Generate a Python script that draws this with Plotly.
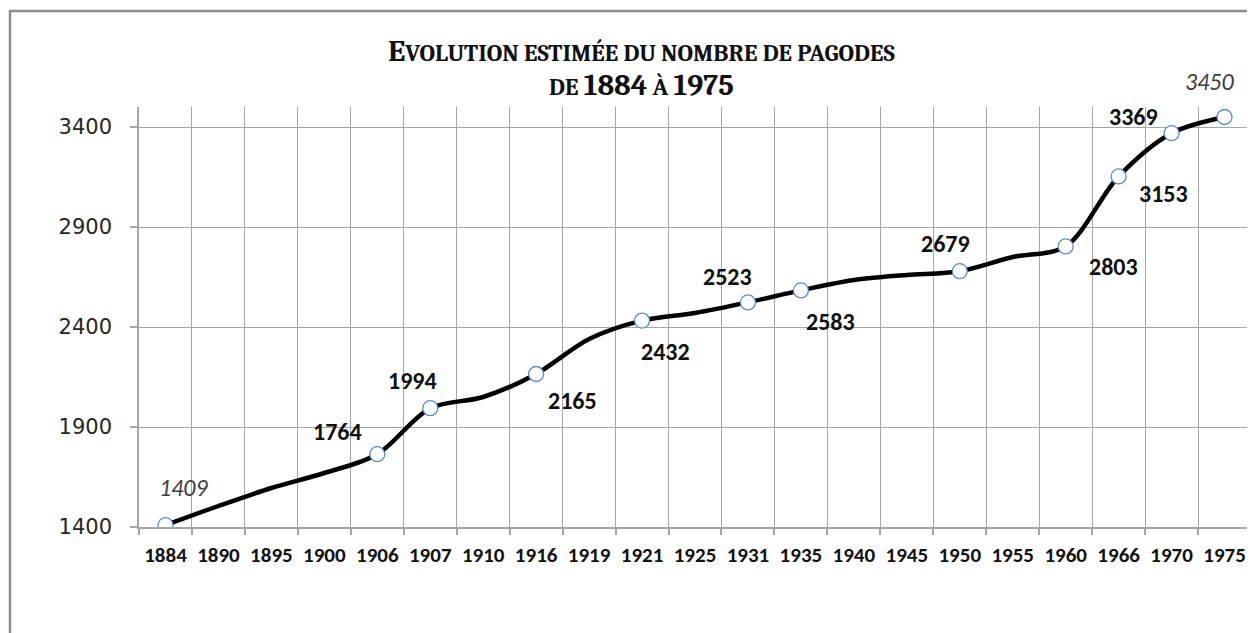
import plotly.graph_objects as go

# ---- data ----
years = ["1884", "1890", "1895", "1900", "1906", "1907", "1910", "1916", "1919", "1921",
         "1925", "1931", "1935", "1940", "1945", "1950", "1955", "1960", "1966", "1970", "1975"]
pagodes = [1409, 1505, 1595, 1670, 1764, 1994, 2050, 2165, 2340, 2432,
           2470, 2523, 2583, 2635, 2660, 2679, 2750, 2803, 3153, 3369, 3450]
marked_years = ["1884", "1906", "1907", "1916", "1921", "1931", "1935",
                "1950", "1960", "1966", "1970", "1975"]
italic_years = ["1884", "1975"]
y_ticks = [1400, 1900, 2400, 2900, 3400]

value_of = dict(zip(years, pagodes))
marked_values = [value_of[y] for y in marked_years]
marked_index = [years.index(y) for y in marked_years]

# ---- layout geometry (page has an 8px body margin) ----
OFF = 8
W, H = 1255, 633
L, T = 139 - OFF, 107 - OFF
pw, ph = 1112, 420
R = W - L - pw
B = H - T - ph

def px_x(p):
    return (p - OFF - L) / pw

def px_y(p):
    return (T + ph - (p - OFF)) / ph

grid = "#A6A6A6"
label_font = "Carlito, Lato, Open Sans, sans-serif"
title_font = "Cambria, Liberation Serif, DejaVu Serif, serif"

fig = go.Figure()
fig.add_trace(go.Scatter(
    x=list(range(len(years))), y=pagodes, mode="lines",
    line=dict(color="black", width=4.5, shape="spline", smoothing=0.9),
    hoverinfo="y", showlegend=False))
fig.add_trace(go.Scatter(
    x=marked_index, y=marked_values, mode="markers",
    marker=dict(symbol="circle", size=15, color="white",
                line=dict(color="#5B8BD0", width=1.3)),
    showlegend=False))

# label offsets (px) relative to each marker
offsets = {
    "1884": (18, 38), "1906": (-40, 23), "1907": (-18, 28), "1916": (36, -26),
    "1921": (23, -31), "1931": (-20, 26), "1935": (30, -31), "1950": (-14, 28),
    "1960": (48, -20), "1966": (45, -17), "1970": (-38, 17), "1975": (-15, 36),
}
for yr, xi, val in zip(marked_years, marked_index, marked_values):
    dx, dy = offsets[yr]
    italic = yr in italic_years
    txt = f"<i>{val}</i>" if italic else f"<b>{val}</b>"
    fig.add_annotation(
        x=xi, y=val, xref="x", yref="y", text=txt, showarrow=False,
        xshift=dx, yshift=dy,
        font=dict(family=label_font, size=24,
                  color="#404040" if italic else "#111111"))

# title (small caps emulation), two lines in one text block
sc = '<span style="font-size:24px">'
fig.add_annotation(
    xref="paper", yref="paper", x=px_x(641), y=px_y(68), showarrow=False,
    xanchor="center", yanchor="middle", align="center",
    text=('<b><span style="font-size:31px">E</span>' + sc +
          'VOLUTION ESTIMÉE DU NOMBRE DE PAGODES</span>'
          '<br>' + sc + 'DE </span><span style="font-size:30px">1884</span>' + sc +
          ' À </span><span style="font-size:30px">1975</span></b>'),
    font=dict(family=title_font, size=26, color="#111111"))

# outer frame
fig.add_shape(type="rect", xref="paper", yref="paper",
              x0=px_x(10), x1=px_x(1275), y0=px_y(660), y1=px_y(11),
              line=dict(color="#8C8C8C", width=2.5), fillcolor="rgba(0,0,0,0)",
              layer="below")

fig.update_xaxes(
    tickmode="array", tickvals=list(range(len(years))), ticktext=years,
    range=[-0.5, len(years) - 0.5],
    showgrid=False, showline=True, linecolor=grid, linewidth=1.5,
    ticks="", ticklabelstandoff=8,
    tickfont=dict(family=label_font, size=21, color="#111111", weight="bold"),
    zeroline=False, fixedrange=True)
# vertical gridlines and tick marks at category boundaries (secondary axis)
fig.update_layout(xaxis2=dict(
    overlaying="x", side="bottom", range=[-0.5, len(years) - 0.5],
    tickmode="linear", tick0=-0.5, dtick=1, showticklabels=False,
    showgrid=True, gridcolor=grid, gridwidth=1,
    ticks="outside", ticklen=7, tickcolor=grid, tickwidth=1.5,
    zeroline=False, fixedrange=True))
fig.add_trace(go.Scatter(x=[None], y=[None], xaxis="x2", yaxis="y",
                         showlegend=False, hoverinfo="skip"))
fig.update_yaxes(
    range=[1400, 3500], tickvals=y_ticks, ticktext=[str(v) for v in y_ticks],
    showgrid=True, gridcolor=grid, gridwidth=1,
    showline=True, linecolor=grid, linewidth=1.5,
    ticks="outside", ticklen=7, tickcolor=grid, tickwidth=1.5,
    ticklabelstandoff=14,
    tickfont=dict(family="DejaVu Sans, sans-serif", size=21, color="#262626"),
    zeroline=False, fixedrange=True)

fig.update_layout(
    width=W, height=H, autosize=False,
    margin=dict(l=L, r=R, t=T, b=B, pad=0),
    paper_bgcolor="white", plot_bgcolor="white",
    showlegend=False)

fig.write_html("out.html")
